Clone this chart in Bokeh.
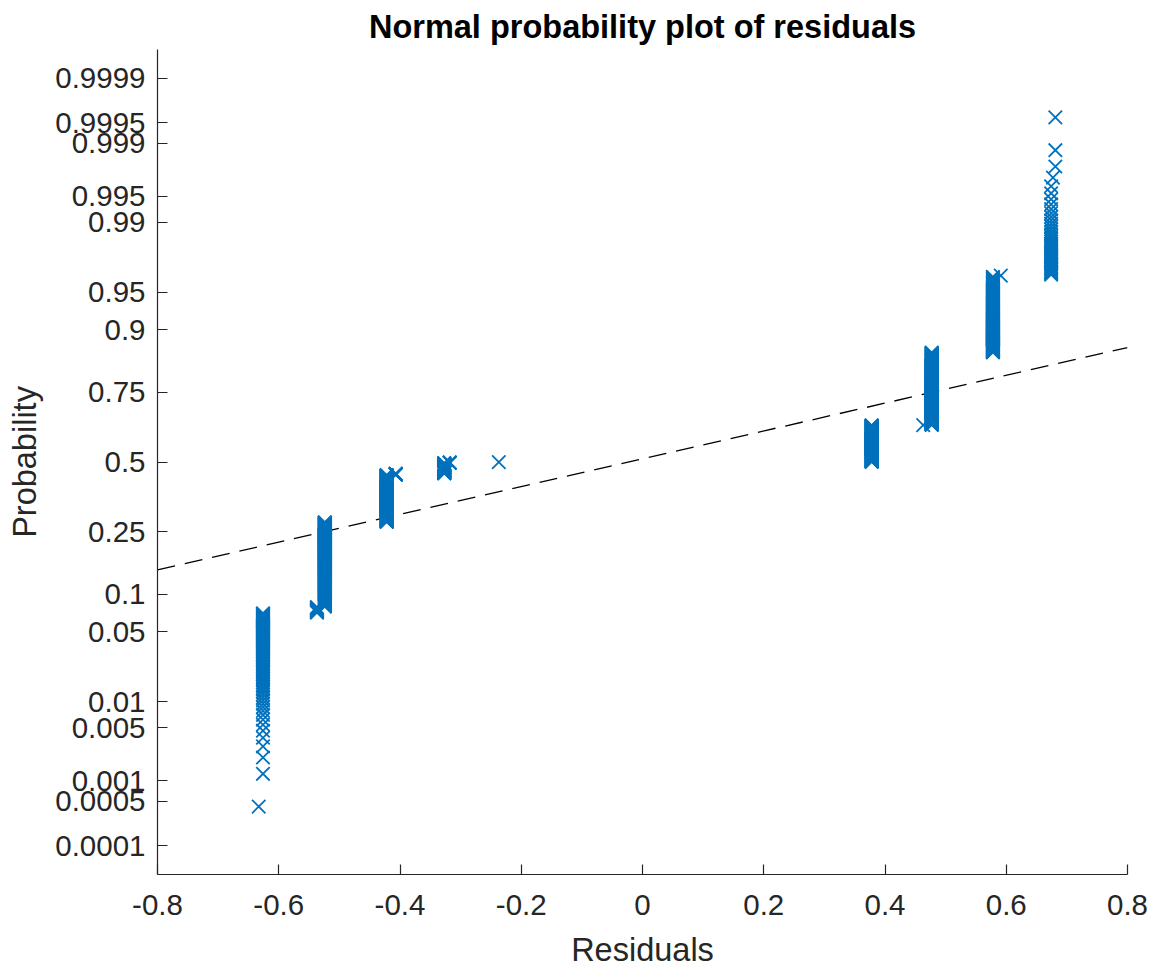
from statistics import NormalDist

import numpy as np
from bokeh.embed import file_html
from bokeh.models import ColumnDataSource, FixedTicker
from bokeh.plotting import figure
from bokeh.resources import INLINE

# Residual values (ascending) and how many observations share each value
residual_levels = [-0.633, -0.626, -0.537, -0.524, -0.422, -0.407, -0.327, -0.318, -0.237,
                   0.378, 0.463, 0.477, 0.578, 0.591, 0.674, 0.677, 0.681]
level_counts = [1, 85, 10, 240, 204, 7, 48, 4, 1,
                167, 1, 259, 130, 1, 38, 1, 3]

# Probability axis ticks
prob_ticks = [0.0001, 0.0005, 0.001, 0.005, 0.01, 0.05, 0.1, 0.25, 0.5,
              0.75, 0.9, 0.95, 0.99, 0.995, 0.999, 0.9995, 0.9999]
prob_labels = ["0.0001", "0.0005", "0.001", "0.005", "0.01", "0.05", "0.1", "0.25", "0.5",
               "0.75", "0.9", "0.95", "0.99", "0.995", "0.999", "0.9995", "0.9999"]

# Residual axis ticks
x_ticks = [-0.8, -0.6, -0.4, -0.2, 0, 0.2, 0.4, 0.6, 0.8]
x_labels = ["-0.8", "-0.6", "-0.4", "-0.2", "0", "0.2", "0.4", "0.6", "0.8"]

nd = NormalDist()

# Sorted residuals against their plotting positions (i - 0.5) / n on the normal scale
residuals = np.sort(np.repeat(residual_levels, level_counts))
n = len(residuals)
positions = (np.arange(1, n + 1) - 0.5) / n
z_scores = np.array([nd.inv_cdf(float(q)) for q in positions])

# Reference line through the first and third quartiles
q1, q3 = np.percentile(residuals, [25, 75])
z1, z3 = nd.inv_cdf(0.25), nd.inv_cdf(0.75)
line_x = np.array([-0.8, 0.8])
line_z = z1 + (line_x - q1) * (z3 - z1) / (q3 - q1)

FONT = "Liberation Sans"
AXIS_COLOR = "#262626"

p = figure(width=1157, height=971, output_backend="svg", toolbar_location=None,
           x_range=(-0.8, 0.8), y_range=(-4.0, 4.0),
           min_border_left=157, min_border_right=30,
           min_border_top=49, min_border_bottom=97)

p.title.text = "Normal probability plot of residuals"
p.title.align = "center"
p.title.text_font = FONT
p.title.text_font_size = "32.5px"
p.title.text_font_style = "bold"
p.title.text_color = "#000000"

p.outline_line_color = None
p.grid.visible = False
p.background_fill_color = "white"
p.border_fill_color = "white"

# Dashed quartile line
p.line(line_x, line_z, line_color="black", line_width=1.3, line_dash="18 10")

src = ColumnDataSource(dict(x=residuals, z=z_scores))
p.scatter("x", "z", source=src, marker="x", size=19,
          line_color="#0072BD", line_width=1.8)

# Axes styling
for ax in (p.xaxis[0], p.yaxis[0]):
    ax.axis_line_color = AXIS_COLOR
    ax.axis_line_width = 1.2
    ax.major_tick_line_color = AXIS_COLOR
    ax.major_tick_line_width = 1.2
    ax.major_tick_in = 10
    ax.major_tick_out = 0
    ax.minor_tick_line_color = None
    ax.major_label_text_font = FONT
    ax.major_label_text_font_size = "29.5px"
    ax.major_label_text_color = AXIS_COLOR
    ax.axis_label_text_font = FONT
    ax.axis_label_text_font_size = "32.5px"
    ax.axis_label_text_font_style = "normal"
    ax.axis_label_text_color = AXIS_COLOR

p.xaxis.ticker = FixedTicker(ticks=x_ticks)
p.xaxis.major_label_overrides = {float(t): lab for t, lab in zip(x_ticks, x_labels)}
p.xaxis.axis_label = "Residuals"
p.xaxis.major_label_standoff = 20
p.xaxis.axis_label_standoff = 14

prob_z = [nd.inv_cdf(q) for q in prob_ticks]
p.yaxis.ticker = FixedTicker(ticks=prob_z)
p.yaxis.major_label_overrides = {float(t): lab for t, lab in zip(prob_z, prob_labels)}
p.yaxis.axis_label = "Probability"
p.yaxis.major_label_standoff = 12
p.yaxis.axis_label_standoff = 9

open("out.html", "w").write(file_html(p, INLINE))
